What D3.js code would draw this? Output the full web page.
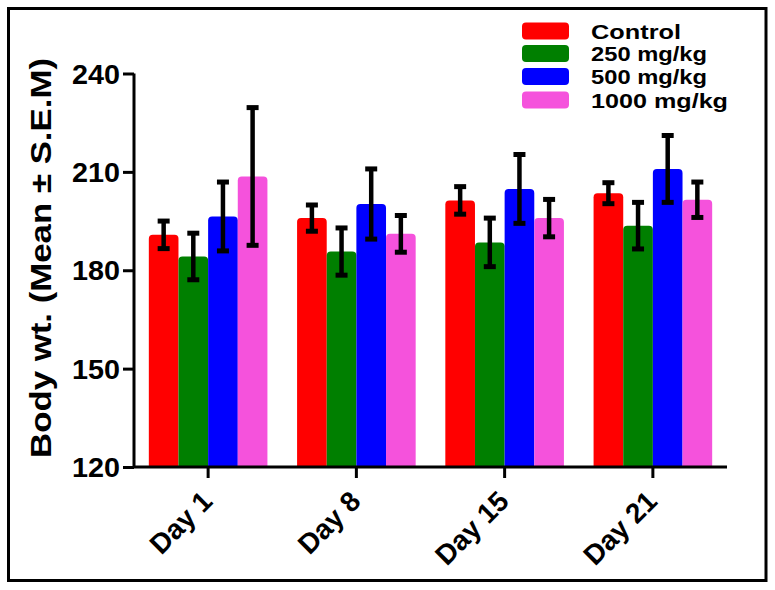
<!DOCTYPE html>
<html><head><meta charset="utf-8">
<script src="https://cdn.jsdelivr.net/npm/d3@7"></script>
<style>body{margin:0;background:#fff}svg{display:block}text{font-family:Arial,"Liberation Sans",sans-serif;font-weight:bold}</style>
</head><body>
<svg id="c" width="775" height="590"></svg>
<script>
const categories = ["Day 1", "Day 8", "Day 15", "Day 21"];
const seriesNames = ["Control", "250 mg/kg", "500 mg/kg", "1000 mg/kg"];
const seriesColors = ["#FF0000", "#007F00", "#0000FF", "#F552DC"];
const controlMean = [190.8, 195.9, 201.3, 203.5];
const controlSem  = [4.2, 4.0, 4.2, 3.2];
const mg250Mean = [184.2, 185.7, 188.5, 193.6];
const mg250Sem  = [7.1, 7.2, 7.4, 7.1];
const mg500Mean = [196.4, 200.2, 204.8, 210.9];
const mg500Sem  = [10.5, 10.7, 10.5, 10.2];
const mg1000Mean = [208.6, 191.1, 195.9, 201.5];
const mg1000Sem  = [21.0, 5.6, 5.7, 5.4];
const yTicks = [120, 150, 180, 210, 240];

const means = [controlMean, mg250Mean, mg500Mean, mg1000Mean];
const sems = [controlSem, mg250Sem, mg500Sem, mg1000Sem];

const svg = d3.select("#c");
svg.append("rect").attr("x", 8.5).attr("y", 8.5).attr("width", 757.5).attr("height", 572)
  .attr("fill", "none").attr("stroke", "#000").attr("stroke-width", 3);

const x0 = d3.scaleBand().domain(categories).range([134, 727]).paddingInner(0.2).paddingOuter(0.1);
const x1 = d3.scaleBand().domain(seriesNames).range([0, x0.bandwidth()]).padding(0);
const y = d3.scaleLinear().domain([120, 240]).range([467, 73.5]);

const data = [];
categories.forEach((c, i) => seriesNames.forEach((s, j) => data.push({c, s, j, m: means[j][i], e: sems[j][i]})));

function barPath(x, w, yTop, yBot, r) {
  return `M${x},${yBot}V${yTop + r}Q${x},${yTop} ${x + r},${yTop}H${x + w - r}Q${x + w},${yTop} ${x + w},${yTop + r}V${yBot}Z`;
}

svg.append("g").selectAll("path").data(data).join("path")
  .attr("d", d => barPath(x0(d.c) + x1(d.s), x1.bandwidth(), y(d.m), y(120), 4))
  .attr("fill", d => seriesColors[d.j]);

const eb = svg.append("g").attr("stroke", "#000");
data.forEach(d => {
  const cx = x0(d.c) + x1(d.s) + x1.bandwidth() / 2;
  eb.append("line").attr("x1", cx).attr("x2", cx).attr("y1", y(d.m + d.e)).attr("y2", y(d.m - d.e)).attr("stroke-width", 4.5);
  [d.m + d.e, d.m - d.e].forEach(v => {
    eb.append("line").attr("x1", cx - 6).attr("x2", cx + 6).attr("y1", y(v)).attr("y2", y(v)).attr("stroke-width", 5);
  });
});

const yAxis = svg.append("g").attr("transform", "translate(134,0)")
  .call(d3.axisLeft(y).tickValues(yTicks).tickSize(11).tickPadding(3));
const xAxis = svg.append("g").attr("transform", "translate(0,467)")
  .call(d3.axisBottom(x0).tickSize(11).tickSizeOuter(0));
[yAxis, xAxis].forEach(g => {
  g.select(".domain").attr("stroke", "#000").attr("stroke-width", 3);
  g.selectAll(".tick line").attr("stroke", "#000").attr("stroke-width", 3);
});
yAxis.select(".domain").attr("d", `M0,${y(240)}V${y(120)}`);
xAxis.select(".domain").attr("d", `M134,0H727`);
yAxis.selectAll(".tick text").attr("font-size", 27).attr("fill", "#000").attr("dy", "0.36em")
  .attr("textLength", 48).attr("lengthAdjust", "spacingAndGlyphs");
xAxis.selectAll(".tick text").attr("font-size", 28).attr("fill", "#000")
  .attr("text-anchor", "end").attr("x", 0).attr("y", 0).attr("dy", 0)
  .attr("transform", "translate(6,36) rotate(-45)");

svg.append("text").attr("transform", "translate(51,258) rotate(-90)")
  .attr("text-anchor", "middle").attr("font-size", 30)
  .attr("textLength", 400).attr("lengthAdjust", "spacingAndGlyphs")
  .text("Body wt. (Mean ± S.E.M)");

const lg = svg.append("g");
const rowY = [31, 53.5, 76.5, 100];
const legendWidths = [90, 116, 116, 137];
seriesNames.forEach((s, j) => {
  lg.append("rect").attr("x", 522).attr("y", rowY[j] - 8.5).attr("width", 47).attr("height", 17)
    .attr("rx", 4).attr("fill", seriesColors[j]);
  lg.append("text").attr("x", 591).attr("y", rowY[j]).attr("dy", "0.36em")
    .attr("font-size", 21).attr("textLength", legendWidths[j]).attr("lengthAdjust", "spacingAndGlyphs")
    .text(s);
});
</script>
</body></html>
